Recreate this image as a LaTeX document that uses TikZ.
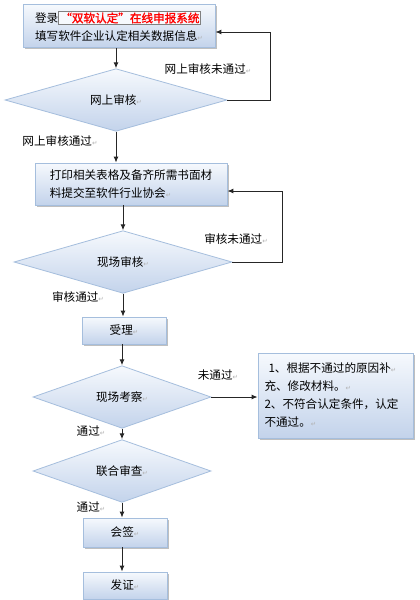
\documentclass[tikz,border=0pt]{standalone}
\usepackage{fontspec}
\setmainfont{Noto Sans CJK SC}
\newfontfamily\dvfont{DejaVu Sans}
\newfontfamily\hlfont{Noto Sans CJK SC}[FakeBold=1.5]
\usetikzlibrary{shapes.geometric,arrows.meta,shadows,calc}
\definecolor{bordc}{HTML}{A5BEDD}
\definecolor{topc}{HTML}{F6F9FD}
\definecolor{botc}{HTML}{C3D3EB}
\newcommand\retmark{{\dvfont\fontsize{6.5}{6.5}\selectfont\color{gray!60}↵}}
\setlength\fboxsep{1pt}
\setlength\fboxrule{1pt}
\begin{document}
\begin{tikzpicture}[x=1pt,y=-1pt,
  every node/.style={font=\fontsize{11.6}{18}\selectfont},
  box/.style={draw=bordc, line width=0.8pt, top color=topc, bottom color=botc, inner sep=0pt,
    drop shadow={shadow xshift=1.5pt, shadow yshift=-1.5pt, fill=black, opacity=0.25}},
  dia/.style={diamond, draw=bordc, line width=0.8pt, top color=topc, bottom color=botc, inner sep=0pt},
  arr/.style={-{Latex[length=6pt,width=5pt]}, line width=1pt, black!85},
  lbl/.style={inner sep=0pt}]
\fill[white] (0,0) rectangle (420,600);
\useasboundingbox (0,0) rectangle (420,600);

\node[box, minimum width=192pt, minimum height=43pt, align=left] (b1) at (119,26)
  {登录\fcolorbox{gray}{topc}{\hlfont\color{red}“双软认定”在线申报系统}\\填写软件企业认定相关数据信息\retmark};
\node[dia, minimum width=222pt, minimum height=46pt] (d1) at (116,100) {网上审核\retmark};
\node[box, minimum width=192pt, minimum height=42pt, align=left] (b2) at (131,184)
  {打印相关表格及备齐所需书面材\\料提交至软件行业协会\retmark};
\node[dia, minimum width=218pt, minimum height=47pt] (d2) at (123,262) {现场审核\retmark};
\node[box, minimum width=84pt, minimum height=27pt] (b3) at (124,330.5) {受理\retmark};
\node[dia, minimum width=178pt, minimum height=44pt] (d3) at (122,397) {现场考察\retmark};
\node[box, minimum width=155pt, minimum height=85pt, align=left, text width=142pt] (b4) at (335.5,395.5)
  {\hspace{4pt}1、根据不通过的原因补\retmark\\充、修改材料。\retmark\\2、不符合认定条件，认定\\不通过。\retmark};
\node[dia, minimum width=178pt, minimum height=45pt] (d4) at (122,471) {联合审查\retmark};
\node[box, minimum width=84pt, minimum height=29pt] (b5) at (125,532.5) {会签\retmark};
\node[box, minimum width=84pt, minimum height=27pt] (b6) at (125,585.5) {发证\retmark};

\coordinate (r1) at (270,32);
\coordinate (r2) at (282,191);

\draw[arr] (b1.south -| d1.north) -- (d1.north);
\draw[arr] (d1.south) -- (d1.south |- b2.north);
\draw[arr] (d1.east) -| (r1) -- (r1 -| b1.east);
\draw[arr] (b2.south -| d2.north) -- (d2.north);
\draw[arr] (d2.south) -- (d2.south |- b3.north);
\draw[arr] (d2.east) -| (r2) -- (r2 -| b2.east);
\draw[arr] (b3.south -| d3.north) -- (d3.north);
\draw[arr] (d3.east) -- (b4.west |- d3.east);
\draw[arr] (d3.south) -- (d4.north);
\draw[arr] (d4.south) -- (d4.south |- b5.north);
\draw[arr] (b5.south -| d4.south) -- (b6.north -| d4.south);

\node[lbl] (t1) at (208,69) {网上审核未通过\retmark};
\node[lbl] (t2) at (60,141) {网上审核通过\retmark};
\node[lbl] (t3) at (236,239) {审核未通过\retmark};
\node[lbl] (t4) at (78,297) {审核通过\retmark};
\node[lbl] (t5) at (218,375) {未通过\retmark};
\node[lbl] (t6) at (91,431) {通过\retmark};
\node[lbl] (t7) at (91,507) {通过\retmark};
\end{tikzpicture}
\end{document}
